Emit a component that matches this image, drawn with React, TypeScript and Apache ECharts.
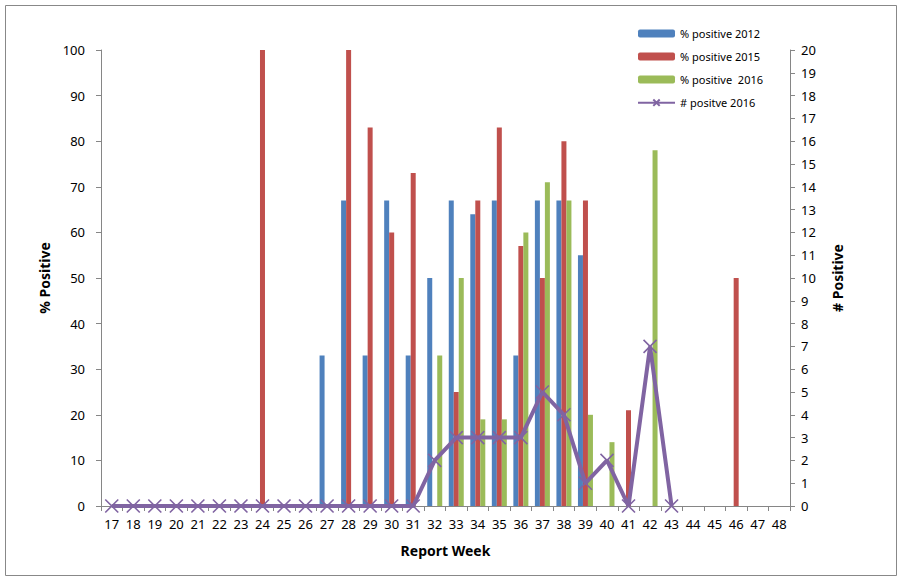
import { useEffect, useRef } from "react"
import * as echarts from "echarts"

const weeks = [
  "17", "18", "19", "20", "21", "22", "23", "24", "25", "26", "27", "28", "29", "30", "31", "32",
  "33", "34", "35", "36", "37", "38", "39", "40", "41", "42", "43", "44", "45", "46", "47", "48",
]

// % positive per week, null = no bar
const pos2012 = [
  null, null, null, null, null, null, null, null, null, null, 33, 67, 33, 67, 33, 50,
  67, 64, 67, 33, 67, 67, 55, null, null, null, null, null, null, null, null, null,
]
const pos2015 = [
  null, null, null, null, null, null, null, 100, null, null, null, 100, 83, 60, 73, null,
  25, 67, 83, 57, 50, 80, 67, null, 21, null, null, null, null, 50, null, null,
]
const pos2016 = [
  null, null, null, null, null, null, null, null, null, null, null, null, null, null, null, 33,
  50, 19, 19, 60, 71, 67, 20, 14, null, 78, null, null, null, null, null, null,
]
const count2016 = [
  0, 0, 0, 0, 0, 0, 0, 0, 0, 0, 0, 0, 0, 0, 0, 2,
  3, 3, 3, 3, 5, 4, 1, 2, 0, 7, 0, null, null, null, null, null,
]

const FONT = "Noto Sans"
const AXIS = "#868686"
const CROSS = "path://M0,0L10,10M10,0L0,10"

export default function App() {
  const hostRef = useRef<HTMLDivElement>(null)

  useEffect(() => {
    document.body.style.margin = "0"
    const el = hostRef.current
    if (!el) return
    const chart = echarts.init(el, undefined, { renderer: "svg" })

    const axisLine = { show: true, lineStyle: { color: AXIS, width: 1 } }
    const axisTick = { show: true, length: 5, lineStyle: { color: AXIS } }
    const axisLabel = { color: "#000", fontSize: 13, fontFamily: FONT }
    const nameStyle = { color: "#000", fontSize: 14, fontWeight: "bold" as const, fontFamily: FONT }

    chart.setOption({
      animation: false,
      textStyle: { fontFamily: FONT },
      graphic: [
        {
          type: "rect",
          shape: { x: 5.5, y: 5.5, width: 891, height: 570 },
          style: { fill: "none", stroke: "#888", lineWidth: 1 },
          silent: true,
        },
      ],
      legend: {
        orient: "vertical",
        left: 632,
        top: 23,
        itemWidth: 37,
        itemHeight: 8,
        itemGap: 12,
        textStyle: { color: "#000", fontSize: 11, fontFamily: FONT },
        data: ["% positive 2012", "% positive 2015", "% positive  2016", "# positve 2016"],
      },
      grid: { left: 101, right: 113, top: 50, bottom: 74 },
      xAxis: {
        type: "category",
        data: weeks,
        name: "Report Week",
        nameLocation: "middle",
        nameGap: 37,
        nameTextStyle: nameStyle,
        axisLine,
        axisTick: { ...axisTick, alignWithLabel: false },
        axisLabel: { ...axisLabel, interval: 0, margin: 11 },
        splitLine: { show: false },
      },
      yAxis: [
        {
          type: "value",
          min: 0,
          max: 100,
          interval: 10,
          name: "% Positive",
          nameLocation: "middle",
          nameRotate: 90,
          nameGap: 46,
          nameTextStyle: nameStyle,
          axisLine,
          axisTick,
          axisLabel: { ...axisLabel, margin: 16 },
          splitLine: { show: false },
        },
        {
          type: "value",
          min: 0,
          max: 20,
          interval: 1,
          position: "right",
          name: "# Positive",
          nameLocation: "middle",
          nameRotate: 90,
          nameGap: 40,
          nameTextStyle: nameStyle,
          axisLine,
          axisTick,
          axisLabel: { ...axisLabel, margin: 11 },
          splitLine: { show: false },
        },
      ],
      series: [
        {
          name: "% positive 2012",
          type: "bar",
          data: pos2012,
          barWidth: 5,
          barGap: "0%",
          itemStyle: { color: "#4F81BD" },
        },
        {
          name: "% positive 2015",
          type: "bar",
          data: pos2015,
          barWidth: 5,
          barGap: "0%",
          itemStyle: { color: "#C0504D" },
        },
        {
          name: "% positive  2016",
          type: "bar",
          data: pos2016,
          barWidth: 5,
          barGap: "0%",
          itemStyle: { color: "#9BBB59" },
        },
        {
          name: "# positve 2016",
          type: "line",
          yAxisIndex: 1,
          data: count2016,
          symbol: CROSS,
          symbolSize: 13,
          showAllSymbol: true,
          lineStyle: { color: "#8064A2", width: 4 },
          itemStyle: { color: "none", borderColor: "#8064A2", borderWidth: 1.6 },
          z: 5,
        },
      ],
    })

    return () => chart.dispose()
  }, [])

  return <div ref={hostRef} style={{ width: 903, height: 580 }} />
}
